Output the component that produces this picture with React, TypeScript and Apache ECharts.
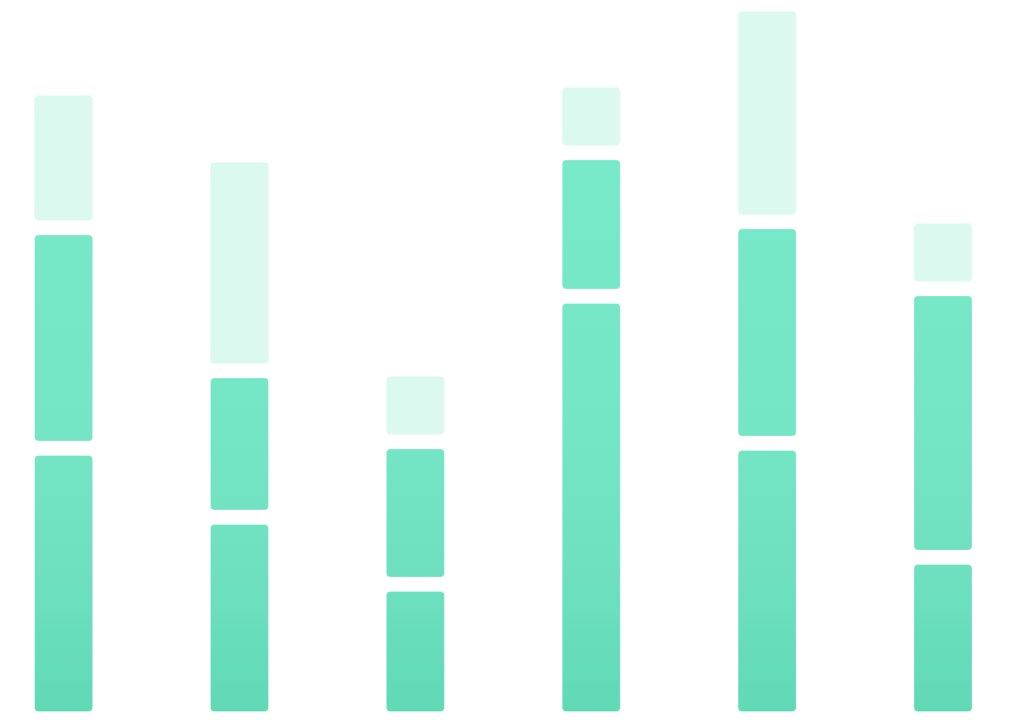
import { useEffect, useRef } from "react";
import * as echarts from "echarts";

const categories = ["1", "2", "3", "4", "5", "6"];
const bottomValues = [256, 187, 120, 408, 261, 147];
const middleValues = [206, 132, 128, 129, 207, 254];
const topValues = [125, 201, 58, 58, 203, 58];

const GAP = 14.5;
const BAR_WIDTH = 58;

const App = () => {
  const chartRef = useRef<HTMLDivElement>(null);

  useEffect(() => {
    if (!chartRef.current) return;
    const chart = echarts.init(chartRef.current, undefined, { renderer: "svg" });

    // one gradient for the whole plot, so segments shade by height
    const green = new echarts.graphic.LinearGradient(
      0,
      11,
      0,
      711,
      [
        { offset: 0, color: "#79eaca" },
        { offset: 0.6, color: "#74e6c6" },
        { offset: 0.8, color: "#6ee0c0" },
        { offset: 1, color: "#60d9b6" },
      ],
      true
    );

    const option = {
      animation: false,
      backgroundColor: "#ffffff",
      grid: { left: 63.6, right: 81, top: 11.5, bottom: 15.5 },
      xAxis: {
        type: "category",
        data: categories,
        boundaryGap: false,
        show: false,
      },
      yAxis: { type: "value", min: 0, max: 700, show: false },
      series: [
        {
          type: "custom",
          data: categories.map((_, i) => [i, bottomValues[i], middleValues[i], topValues[i]]),
          renderItem: (_params: any, api: any) => {
            const idx = api.value(0);
            const [cx, base] = api.coord([idx, 0]);
            let y = base;
            const children: any[] = [];
            for (let k = 0; k < 3; k++) {
              const h = api.size([0, api.value(k + 1)])[1];
              const isTop = k === 2;
              children.push({
                type: "rect",
                shape: { x: cx - BAR_WIDTH / 2, y: y - h, width: BAR_WIDTH, height: h, r: 4 },
                style: isTop
                  ? { fill: "#dbf9ef", stroke: "#e9fcf6", lineWidth: 1 }
                  : { fill: green, stroke: "rgba(255,255,255,0.25)", lineWidth: 1 },
              });
              y = y - h - GAP;
            }
            return { type: "group", children };
          },
        },
      ],
    };

    chart.setOption(option);
    return () => chart.dispose();
  }, []);

  return (
    <div
      ref={chartRef}
      style={{ position: "fixed", left: 0, top: 0, width: 1024, height: 727 }}
    />
  );
};

export default App;
